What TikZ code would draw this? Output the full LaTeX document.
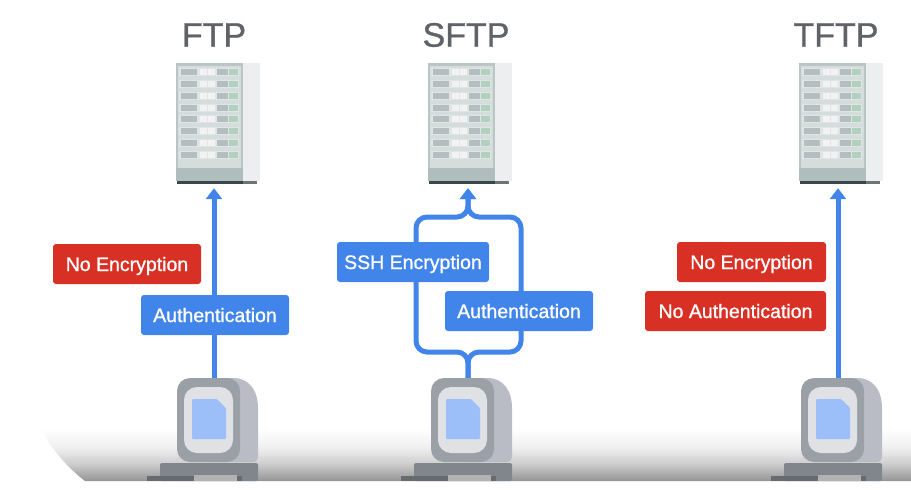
\documentclass[tikz,border=0pt]{standalone}
\usepackage{fontspec}
\setmainfont{Liberation Sans}
\newfontfamily\medfont[FakeBold=0.9]{Liberation Sans}
\usetikzlibrary{arrows.meta}

\definecolor{titlegray}{HTML}{5F6368}
\definecolor{flowblue}{HTML}{4285EA}
\definecolor{alertred}{HTML}{D93025}
\definecolor{rackbody}{HTML}{BAC6C6}
\definecolor{rackface}{HTML}{DFE5E5}
\definecolor{rackbase}{HTML}{B0BDBD}
\definecolor{rackshade}{HTML}{ECEEF0}
\definecolor{rackdark}{HTML}{37474A}
\definecolor{rackcell}{HTML}{B4BEBE}
\definecolor{rackgreen}{HTML}{B2D0BE}
\definecolor{pcback}{HTML}{B9BCC4}
\definecolor{pcfront}{HTML}{9AA0A6}
\definecolor{pcscreen}{HTML}{DFE1E5}
\definecolor{pcdesk}{HTML}{80868B}
\definecolor{pcfile}{HTML}{9DBFF9}

\pgfdeclareverticalshading{floorfade}{100bp}{
	color(0bp)=(black!42); color(25bp)=(black!42); color(40bp)=(black!20);
	color(55bp)=(black!6); color(72bp)=(white); color(100bp)=(white)}

\tikzset{
	tag/.style={rounded corners=3pt, text=white, font=\medfont\fontsize{19.5}{22}\selectfont, minimum height=40pt, inner sep=0pt, text height=14pt, text depth=0pt},
	bluetag/.style={tag, fill=flowblue},
	redtag/.style={tag, fill=alertred},
	link/.style={draw=flowblue, line width=5pt, -{Triangle[width=16pt,length=11pt]}, shorten >=4pt},
	heading/.style={text=titlegray, font=\medfont\fontsize{34}{38}\selectfont, inner sep=0pt},
	slot/.style={minimum width=90pt, inner sep=0pt},
	pics/server/.style={code={
		% Shadow, body, base
		\fill[rackshade] (0,0) rectangle (84,118);
		\fill[rackbody] (0,0) rectangle (67,118);
		\fill[rackface!70!rackbody] (2,3) rectangle (65,105);
		\fill[rackbase] (0,105) rectangle (67,118);
		\fill[rackdark] (1,118) rectangle (67,121);
		\fill[rackdark!75!white] (67,118) rectangle (81,121);
		% Eight drive rows
		\foreach \r in {0,...,7} {
			\begin{scope}[yshift=-11.86*\r pt]
				\fill[rackface] (3,5) rectangle (63,13);
				\fill[rackcell] (5,6) rectangle (21,12);
				\fill[white!90!gray] (24,6) rectangle (31,12);
				\fill[white!90!gray] (32,6) rectangle (39,12);
				\fill[rackcell] (41,6) rectangle (52,12);
				\fill[rackgreen] (53,6) rectangle (62,12);
			\end{scope}
		}
	}},
	pics/terminal/.style={code={
		% Back of the monitor, then the front
		\fill[pcback] (30,0) -- (56,0) .. controls (72,0) and (81,12) .. (81,30) -- (81,78) .. controls (81,82) and (79,84) .. (75,84) -- (30,84) -- cycle;
		\fill[pcfront, rounded corners=13pt] (0,0) rectangle (63,84);
		\fill[pcscreen, rounded corners=13pt] (7,9) rectangle (56,75);
		\fill[pcfile, rounded corners=1pt] (15,21) -- (40,21) -- (49,30) -- (49,61) -- (15,61) -- cycle;
		% Desk unit and keyboard
		\fill[pcdesk, rounded corners=2pt] (-17,85) rectangle (81,103);
		\fill[pcdesk!80!black] (-30,98) rectangle (65,103);
		\fill[gray!60] (17,97) rectangle (60,103);
	}}
}

\begin{document}
\begin{tikzpicture}[x=1pt, y=-1pt]
	\useasboundingbox (0,0) rectangle (911,490);
	
	% Shaded floor behind the computers
	\shade[shading=floorfade] (38,425) .. controls (52,450) and (68,468) .. (85,481) -- (911,481) -- (911,425) -- cycle;
	
	% One column per protocol: name / rack x / computer x / line x / title x
	\foreach \n/\sx/\px/\ax/\tx/\lab in {F/176/177/214/214/FTP, S/428/431/468/466/SFTP, T/799/801/838/836/TFTP} {
		\node[heading] (title\n) at (\tx,35) {\lab};
		\pic at (\sx,63) {server};
		\pic at (\px,378) {terminal};
		\node[slot, minimum height=121pt] (srv\n) at (\ax,123.5) {};
		\node[slot, minimum height=84pt] (pc\n) at (\ax,420) {};
	}
	
	% Branch points of the SFTP line
	\coordinate (lowS) at (468,352);
	\coordinate (highS) at (468,217);
	\coordinate (leftS) at (416,352);
	\coordinate (rightS) at (521,352);
	
	% Connectors
	\draw[link] (pcF.north) -- (srvF.south);
	\draw[link] (pcT.north) -- (srvT.south);
	\draw[link, rounded corners=11pt] (pcS.north) -- (lowS) -- (leftS) -- (leftS |- highS) -- (highS) -- (srvS.south);
	\draw[link, rounded corners=11pt] (pcS.north) -- (lowS) -- (rightS) -- (rightS |- highS) -- (highS) -- (srvS.south);
	
	% Labels
	\node[redtag, minimum width=148pt] (noencF) at (127,264) {No Encryption};
	\node[bluetag, minimum width=148pt] (authF) at (215,315) {Authentication};
	\node[bluetag, minimum width=152pt] (sshS) at (413,262) {SSH Encryption};
	\node[bluetag, minimum width=148pt] (authS) at (519,311) {Authentication};
	\node[redtag, minimum width=149pt] (noencT) at (751.5,262) {No Encryption};
	\node[redtag, minimum width=181pt] (noauthT) at (735.5,311) {No Authentication};
\end{tikzpicture}
\end{document}
